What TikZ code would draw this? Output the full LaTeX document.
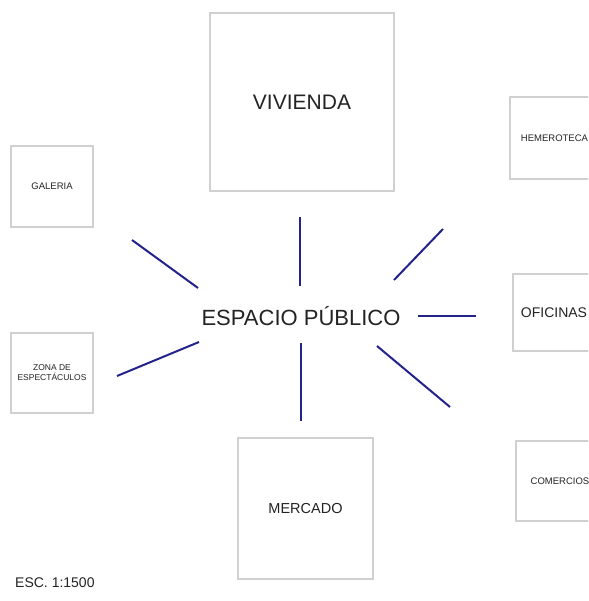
\documentclass[tikz,border=0pt]{standalone}
\usepackage{fontspec}
\setmainfont{Liberation Sans}
\usepackage{tikz}

\definecolor{boxgray}{RGB}{208,208,208}
\definecolor{txtgray}{RGB}{35,35,35}
\definecolor{raynavy}{RGB}{35,35,140}

\tikzset{
  zone/.style={draw=boxgray,line width=1.2pt,fill=white,inner sep=0pt,text=txtgray,align=center},
  ray/.style={raynavy,line width=2pt}
}

\begin{document}
\begin{tikzpicture}[x=1pt,y=-1pt]
  \clip (0,0) rectangle (588,601);
  \fill[white] (0,0) rectangle (588,601);
  % surrounding zones (the right column runs off the sheet)
  \node[zone,minimum width=184,minimum height=178,font=\fontsize{21}{24}\selectfont] (viv) at (302,102) {VIVIENDA};
  \node[zone,minimum width=135,minimum height=141,font=\fontsize{14.5}{17}\selectfont] (mer) at (305.5,508.5) {MERCADO};
  \node[zone,minimum width=82,minimum height=81,font=\fontsize{9.5}{11}\selectfont] (gal) at (52,186.5) {GALERIA};
  \node[zone,minimum width=82,minimum height=80,font=\fontsize{8.5}{10}\selectfont] (zon) at (52,373) {ZONA DE\\ESPECTÁCULOS};
  \node[zone,minimum width=89,minimum height=82,font=\fontsize{9.5}{11}\selectfont] (hem) at (554.5,138) {HEMEROTECA};
  \node[zone,minimum width=82,minimum height=77,font=\fontsize{14}{16}\selectfont] (ofi) at (554,312.5) {OFICINAS};
  \node[zone,minimum width=88,minimum height=80,font=\fontsize{9.5}{11}\selectfont] (com) at (560,481) {COMERCIOS};
  % centre
  \node[text=txtgray,font=\fontsize{22}{26}\selectfont] (ep) at (301,316) {ESPACIO PÚBLICO};
  % rays out of the centre, one per zone
  \coordinate (r1a) at (198,288); \coordinate (r1b) at (132,240); % galeria
  \coordinate (r2a) at (300,286); \coordinate (r2b) at (300,217); % vivienda
  \coordinate (r3a) at (394,280); \coordinate (r3b) at (443,229); % hemeroteca
  \coordinate (r4a) at (418,316); \coordinate (r4b) at (476,316); % oficinas
  \coordinate (r5a) at (377,346); \coordinate (r5b) at (450,407); % comercios
  \coordinate (r6a) at (301,343); \coordinate (r6b) at (301,421); % mercado
  \coordinate (r7a) at (199,342); \coordinate (r7b) at (117,376); % espectaculos
  \foreach \i in {1,...,7} {
    \draw[ray] (r\i a) -- (r\i b);
  }
  % scale
  \node[text=txtgray,font=\fontsize{14}{16}\selectfont,anchor=west,inner sep=0pt] (esc) at (15,583) {ESC. 1:1500};
\end{tikzpicture}
\end{document}
